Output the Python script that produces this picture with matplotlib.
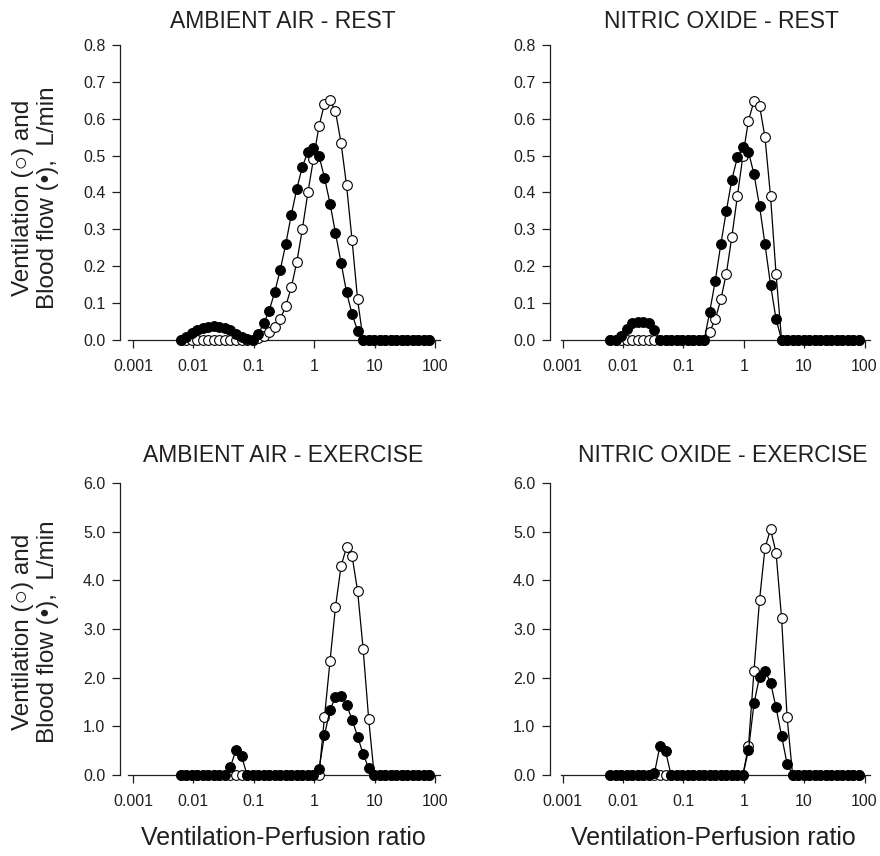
import matplotlib
matplotlib.use('Agg')
import matplotlib.pyplot as plt
from matplotlib.ticker import FixedLocator, NullLocator

plt.rcParams['font.family'] = ['Liberation Sans', 'DejaVu Sans']

# V/Q compartments (log-spaced MIGET grid)
vq = [0.00617, 0.00762, 0.00941, 0.0116, 0.0143, 0.0177, 0.0219, 0.0270, 0.0333, 0.0411,
      0.0508, 0.0627, 0.0774, 0.0955, 0.118, 0.146, 0.180, 0.222, 0.274, 0.338,
      0.418, 0.516, 0.636, 0.786, 0.970, 1.20, 1.48, 1.83, 2.25, 2.78,
      3.43, 4.24, 5.23, 6.46, 7.98, 9.85, 12.2, 15.0, 18.5, 22.9,
      28.2, 34.9, 43.0, 53.1, 65.6, 81.0]

# ambient air, rest
air_rest_flow = [0, 0.008, 0.018, 0.026, 0.032, 0.036, 0.037, 0.036, 0.032, 0.026,
                 0.017, 0.008, 0.002, 0, 0.015, 0.045, 0.08, 0.13, 0.19, 0.26,
                 0.34, 0.41, 0.47, 0.51, 0.52, 0.50, 0.44, 0.37, 0.29, 0.21,
                 0.13, 0.07, 0.025, 0, 0, 0, 0, 0, 0, 0,
                 0, 0, 0, 0, 0, 0]
air_rest_vent = [0, 0, 0, 0, 0, 0, 0, 0, 0, 0,
                 0, 0, 0, 0, 0.005, 0.011, 0.022, 0.036, 0.056, 0.092,
                 0.143, 0.212, 0.30, 0.40, 0.49, 0.58, 0.64, 0.65, 0.62, 0.535,
                 0.42, 0.27, 0.11, 0, 0, 0, 0, 0, 0, 0,
                 0, 0, 0, 0, 0, 0]

# nitric oxide, rest
no_rest_flow = [0, 0, 0.012, 0.03, 0.045, 0.05, 0.05, 0.045, 0.028, 0,
                0, 0, 0, 0, 0, 0, 0, 0, 0.077, 0.16,
                0.26, 0.35, 0.435, 0.495, 0.524, 0.51, 0.45, 0.363, 0.26, 0.15,
                0.057, 0, 0, 0, 0, 0, 0, 0, 0, 0,
                0, 0, 0, 0, 0, 0]
no_rest_vent = [0, 0, 0, 0, 0, 0, 0, 0, 0, 0,
                0, 0, 0, 0, 0, 0, 0, 0, 0.023, 0.056,
                0.11, 0.18, 0.28, 0.39, 0.50, 0.595, 0.648, 0.635, 0.55, 0.39,
                0.18, 0, 0, 0, 0, 0, 0, 0, 0, 0,
                0, 0, 0, 0, 0, 0]

# ambient air, exercise
air_ex_flow = [0, 0, 0, 0, 0, 0, 0, 0, 0, 0.17,
               0.52, 0.39, 0, 0, 0, 0, 0, 0, 0, 0,
               0, 0, 0, 0, 0, 0.12, 0.82, 1.34, 1.60, 1.62,
               1.44, 1.14, 0.79, 0.43, 0.14, 0, 0, 0, 0, 0,
               0, 0, 0, 0, 0, 0]
air_ex_vent = [0, 0, 0, 0, 0, 0, 0, 0, 0, 0,
               0, 0, 0, 0, 0, 0, 0, 0, 0, 0,
               0, 0, 0, 0, 0, 0, 1.19, 2.35, 3.45, 4.29,
               4.68, 4.50, 3.78, 2.59, 1.15, 0, 0, 0, 0, 0,
               0, 0, 0, 0, 0, 0]

# nitric oxide, exercise
no_ex_flow = [0, 0, 0, 0, 0, 0, 0, 0, 0.04, 0.60,
              0.49, 0, 0, 0, 0, 0, 0, 0, 0, 0,
              0, 0, 0, 0, 0, 0.51, 1.47, 2.02, 2.14, 1.90,
              1.39, 0.80, 0.23, 0, 0, 0, 0, 0, 0, 0,
              0, 0, 0, 0, 0, 0]
no_ex_vent = [0, 0, 0, 0, 0, 0, 0, 0, 0, 0,
              0, 0, 0, 0, 0, 0, 0, 0, 0, 0,
              0, 0, 0, 0, 0, 0.60, 2.14, 3.60, 4.66, 5.05,
              4.57, 3.22, 1.19, 0, 0, 0, 0, 0, 0, 0,
              0, 0, 0, 0, 0, 0]

titles = ['AMBIENT AIR - REST', 'NITRIC OXIDE - REST',
          'AMBIENT AIR - EXERCISE', 'NITRIC OXIDE - EXERCISE']
xticks = [0.001, 0.01, 0.1, 1, 10, 100]
xticklabels = ['0.001', '0.01', '0.1', '1', '10', '100']
yticks_rest = [0, 0.1, 0.2, 0.3, 0.4, 0.5, 0.6, 0.7, 0.8]
yticks_ex = [0, 1, 2, 3, 4, 5, 6]

INK = '#231f20'
W, H = 880, 856
PPD = 60.4  # pixels per decade on the x axis

fig = plt.figure(figsize=(W / 100, H / 100), dpi=100)


def panel(yaxis_px, tick0_px, xstart_px, xend_px, y0_px, ytop_px,
          vent, flow, yticks, title, title_xy):
    ax = fig.add_axes([yaxis_px / W, (H - y0_px) / H,
                       (xend_px - yaxis_px) / W, (y0_px - ytop_px) / H])
    ax.set_xscale('log')
    xl = 10 ** (-3 - (tick0_px - yaxis_px) / PPD)
    xr = 10 ** (-3 + (xend_px - tick0_px) / PPD)
    ax.set_xlim(xl, xr)
    ax.set_ylim(0, yticks[-1])

    for s in ('top', 'right'):
        ax.spines[s].set_visible(False)
    for s in ('left', 'bottom'):
        ax.spines[s].set_color(INK)
        ax.spines[s].set_linewidth(0.9)
    ax.spines['left'].set_bounds(0, yticks[-1])
    ax.spines['bottom'].set_bounds(10 ** (-3 - (tick0_px - xstart_px) / PPD), xr)

    # open circles = ventilation, filled = blood flow (drawn on top)
    ax.plot(vq, vent, color='black', lw=0.9, marker='o', ms=7.0, mfc='white',
            mec='black', mew=0.8, clip_on=False, zorder=3)
    ax.plot(vq, flow, color='black', lw=0.9, marker='o', ms=7.0, mfc='black',
            mec='black', mew=0.8, clip_on=False, zorder=4)

    ax.xaxis.set_major_locator(FixedLocator(xticks))
    ax.xaxis.set_minor_locator(NullLocator())
    ax.set_xticklabels(xticklabels)
    ax.set_yticks(yticks)
    ax.set_yticklabels([f'{t:.1f}' for t in yticks])
    ax.tick_params(axis='both', direction='out', length=5.5, width=0.9,
                   color=INK, labelcolor=INK, labelsize=11.5)
    ax.tick_params(axis='x', pad=8.5)
    ax.tick_params(axis='y', pad=5)

    fig.text(title_xy[0] / W, 1 - title_xy[1] / H, title, ha='center',
             va='center', fontsize=16.5, color=INK)
    return ax


panel(120, 133, 128, 440, 340, 45, air_rest_vent, air_rest_flow,
      yticks_rest, titles[0], (283, 22))
panel(550, 562.5, 561, 870, 340, 45, no_rest_vent, no_rest_flow,
      yticks_rest, titles[1], (721, 22))
panel(120, 133, 128, 440, 775, 483, air_ex_vent, air_ex_flow,
      yticks_ex, titles[2], (283, 456))
panel(550, 562.5, 561, 870, 775, 483, no_ex_vent, no_ex_flow,
      yticks_ex, titles[3], (723, 456))

# shared axis labels
for cx in (283, 713):
    fig.text(cx / W, 1 - 838 / H, 'Ventilation-Perfusion ratio', ha='center',
             va='center', fontsize=18, color=INK)
for cy in (198, 632):
    fig.text(23 / W, 1 - cy / H, 'Ventilation (\u25cb) and', rotation=90,
             ha='center', va='center', fontsize=17.5, color=INK)
    fig.text(48 / W, 1 - cy / H, 'Blood flow (\u2022),  L/min', rotation=90,
             ha='center', va='center', fontsize=17.5, color=INK)

fig.savefig('out.png', dpi=100)
